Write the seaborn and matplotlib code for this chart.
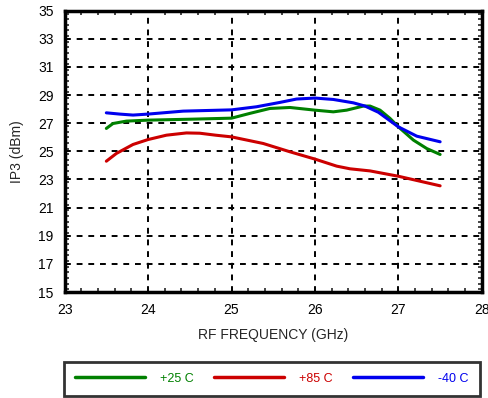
import matplotlib
matplotlib.use("Agg")
import matplotlib.pyplot as plt
from matplotlib.ticker import MultipleLocator
import seaborn as sns
import pandas as pd

sns.set_theme(style="white")
plt.rcParams["font.family"] = ["Liberation Sans", "DejaVu Sans"]

series_labels = ["+25 C", "+85 C", "-40 C"]
series_colors = ["#008000", "#cc0000", "#0000ee"]

freq_25 = [23.50, 23.58, 23.74, 24.00, 24.54, 25.00, 25.22, 25.46, 25.70, 26.00, 26.22, 26.38,
           26.58, 26.66, 26.78, 26.90, 27.00, 27.18, 27.34, 27.50]
ip3_25 = [26.63, 26.98, 27.15, 27.22, 27.29, 27.36, 27.70, 28.05, 28.12, 27.93, 27.81, 27.93,
          28.22, 28.22, 27.93, 27.34, 26.74, 25.80, 25.20, 24.78]

freq_85 = [23.50, 23.62, 23.82, 24.00, 24.22, 24.46, 24.62, 24.81, 25.00, 25.38, 25.70, 26.00,
           26.26, 26.42, 26.66, 27.00, 27.50]
ip3_85 = [24.30, 24.85, 25.49, 25.84, 26.15, 26.31, 26.29, 26.15, 26.03, 25.56, 24.97, 24.45,
          23.95, 23.76, 23.61, 23.23, 22.55]

freq_m40 = [23.50, 23.66, 23.82, 24.00, 24.42, 25.00, 25.30, 25.58, 25.78, 26.00, 26.22, 26.46,
            26.60, 26.76, 27.00, 27.22, 27.50]
ip3_m40 = [27.74, 27.65, 27.58, 27.65, 27.86, 27.95, 28.17, 28.48, 28.72, 28.79, 28.69, 28.45,
           28.22, 27.78, 26.74, 26.08, 25.68]

x_ticks = [23, 24, 25, 26, 27, 28]
y_ticks = [15, 17, 19, 21, 23, 25, 27, 29, 31, 33, 35]

frames = []
for lab, f, v in zip(series_labels, [freq_25, freq_85, freq_m40], [ip3_25, ip3_85, ip3_m40]):
    frames.append(pd.DataFrame({"freq": f, "ip3": v, "temp": lab}))
df = pd.concat(frames, ignore_index=True)

fig = plt.figure(figsize=(4.88, 3.98), dpi=100)
ax = fig.add_axes([0.1324, 0.2663, 0.855, 0.7068])

sns.lineplot(data=df, x="freq", y="ip3", hue="temp", hue_order=series_labels,
             palette=series_colors, linewidth=2.2, sort=False, estimator=None,
             ax=ax, legend=False)

ax.set_xlim(23, 28)
ax.set_ylim(15, 35)
ax.set_xticks(x_ticks)
ax.set_yticks(y_ticks)
ax.xaxis.set_minor_locator(MultipleLocator(0.2))
ax.yaxis.set_minor_locator(MultipleLocator(0.4))
ax.tick_params(which="major", direction="in", length=0, labelsize=10, pad=8, colors="black")
ax.tick_params(which="minor", direction="in", length=3, width=1.2, top=True, right=True, bottom=True, left=True)
ax.grid(True, which="major", color="black", linestyle=(0, (3, 3)), linewidth=1.4)
for sp in ax.spines.values():
    sp.set_color("black")
    sp.set_linewidth(2.5)

ax.set_xlabel("RF FREQUENCY (GHz)", fontsize=10, labelpad=8)
ax.set_ylabel("IP3 (dBm)", fontsize=10, labelpad=10)

handles = [plt.Line2D([], [], color=c, linewidth=2.5) for c in series_colors]
leg = fig.legend(handles, series_labels, loc="lower left",
                 bbox_to_anchor=(64 / 488, 1 - 396 / 398, 416 / 488, 41 / 398),
                 mode="expand", ncol=3, frameon=True, fancybox=False,
                 handlelength=5.6, handletextpad=1.2, fontsize=9,
                 labelcolor=series_colors, borderaxespad=0, borderpad=0.9)
leg.get_frame().set_edgecolor("black")
leg.get_frame().set_linewidth(2)

fig.savefig("out.png", dpi=100)
